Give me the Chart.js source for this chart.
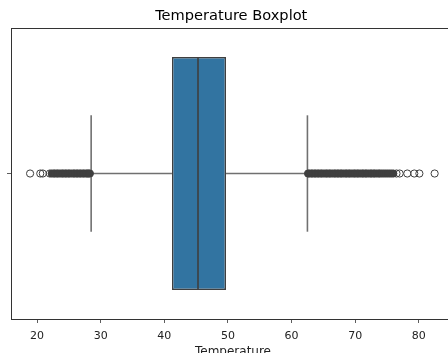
<!DOCTYPE html>
<html>
<head>
<meta charset="utf-8">
<script src="https://cdn.jsdelivr.net/npm/chart.js@4/dist/chart.umd.min.js"></script>
<style>
  html, body { margin: 0; padding: 0; background: #fff; overflow: hidden; }
  #wrap { position: absolute; left: 0; top: 0; width: 460px; height: 359px; }
</style>
</head>
<body>
<div id="wrap"><canvas id="c" width="460" height="359"></canvas></div>
<script>
// Box statistics for the temperature column
const categories = [''];
const quartiles = [41.2, 49.7];      // Q1, Q3
const median = 45.3;
const whiskerLow = 28.5;
const whiskerHigh = 62.5;

// Isolated points beyond the whiskers
const sparseOutliers = [18.9, 20.5, 20.9, 22.0, 76.5, 77.0, 78.2, 79.3, 80.1, 82.5];
// Tightly packed points just beyond the whiskers
const denseLowOutliers = [22.3, 22.6, 22.8, 23.1, 23.3, 23.6, 23.9, 24.1, 24.4, 24.6,
  24.9, 25.1, 25.4, 25.7, 25.9, 26.2, 26.4, 26.7, 26.9, 27.2, 27.4, 27.7, 27.9, 28.1, 28.3];
const denseHighOutliers = [62.6, 62.8, 63.1, 63.3, 63.6, 63.8, 64.1, 64.3, 64.6, 64.8,
  65.1, 65.4, 65.6, 65.9, 66.1, 66.4, 66.7, 66.9, 67.2, 67.4, 67.7, 67.9, 68.2, 68.5,
  68.7, 69.0, 69.2, 69.5, 69.8, 70.0, 70.3, 70.5, 70.8, 71.1, 71.3, 71.6, 71.8, 72.1,
  72.4, 72.6, 72.9, 73.1, 73.4, 73.7, 73.9, 74.2, 74.5, 74.8, 75.1, 75.4, 75.7, 76.0];

const xTicks = [20, 30, 40, 50, 60, 70, 80];

const boxFill = '#3274a1';
const edgeColor = '#3f3f3f';
const whiskerColor = '#707070';
const font = 'DejaVu Sans';

const seg = (x0, y0, x1, y1) => [{x: x0, y: y0}, {x: x1, y: y1}];
const lineSet = (data, color, width) => ({
  type: 'line', data, xAxisID: 'x', yAxisID: 'y2',
  borderColor: color, borderWidth: width, pointRadius: 0, fill: false,
  tension: 0, order: 1
});
const toPoints = arr => arr.map(v => ({x: v, y: 0}));

new Chart(document.getElementById('c'), {
  type: 'bar',
  data: {
    labels: categories,
    datasets: [
      {
        type: 'bar', indexAxis: 'y', xAxisID: 'x', yAxisID: 'y',
        data: [quartiles],
        backgroundColor: boxFill, borderColor: edgeColor, borderWidth: 1.5,
        borderSkipped: false, barPercentage: 0.8, categoryPercentage: 1.0, order: 2
      },
      lineSet(seg(whiskerLow, 0, quartiles[0], 0), whiskerColor, 1.6),
      lineSet(seg(quartiles[1], 0, whiskerHigh, 0), whiskerColor, 1.6),
      lineSet(seg(whiskerLow, -0.2, whiskerLow, 0.2), whiskerColor, 1.6),
      lineSet(seg(whiskerHigh, -0.2, whiskerHigh, 0.2), whiskerColor, 1.6),
      lineSet(seg(median, -0.4, median, 0.4), edgeColor, 1.6),
      {
        type: 'scatter', data: toPoints(denseLowOutliers.concat(denseHighOutliers)),
        xAxisID: 'x', yAxisID: 'y2',
        pointStyle: 'circle', pointRadius: 3.6, pointBorderWidth: 1,
        pointBorderColor: edgeColor, pointBackgroundColor: edgeColor,
        showLine: false, order: 0
      },
      {
        type: 'scatter', data: toPoints(sparseOutliers), xAxisID: 'x', yAxisID: 'y2',
        pointStyle: 'circle', pointRadius: 3.6, pointBorderWidth: 1,
        pointBorderColor: edgeColor, pointBackgroundColor: 'rgba(0,0,0,0)',
        showLine: false, order: 0
      }
    ]
  },
  options: {
    responsive: false,
    animation: false,
    devicePixelRatio: 1,
    layout: { padding: { left: 7, right: 4.5, top: 0, bottom: 0 } },
    plugins: {
      legend: { display: false },
      tooltip: { enabled: false },
      title: {
        display: true, text: 'Temperature Boxplot', color: '#000',
        font: { family: font, size: 14.6, weight: 'normal' },
        padding: { top: 7.6, bottom: 2.9 }
      }
    },
    scales: {
      x: {
        type: 'linear', position: 'bottom', min: 15.9, max: 85.7, offset: false,
        afterBuildTicks: axis => { axis.ticks = xTicks.map(v => ({ value: v })); },
        ticks: { color: '#222', padding: 7, font: { family: font, size: 11 },
                 callback: v => String(v), maxRotation: 0, autoSkip: false },
        grid: { offset: false, drawOnChartArea: false, drawTicks: true, tickLength: 4, tickColor: '#333', tickWidth: 0.8 },
        border: { display: true, color: '#333', width: 1 },
        title: { display: true, text: 'Temperature', color: '#222',
                 font: { family: font, size: 12 }, padding: { top: -6, bottom: 0.4 } }
      },
      x2: {
        type: 'linear', position: 'top', min: 0, max: 1, offset: false,
        ticks: { display: false },
        grid: { offset: false, drawOnChartArea: false, drawTicks: false },
        border: { display: true, color: '#333', width: 1 }
      },
      y: {
        type: 'category', position: 'left', offset: true,
        ticks: { display: false },
        grid: { offset: false, drawOnChartArea: false, drawTicks: true, tickLength: 4, tickColor: '#333', tickWidth: 0.8 },
        border: { display: true, color: '#333', width: 1 }
      },
      y2: {
        type: 'linear', display: false, min: -0.5, max: 0.5
      }
    }
  }
});
</script>
</body>
</html>
